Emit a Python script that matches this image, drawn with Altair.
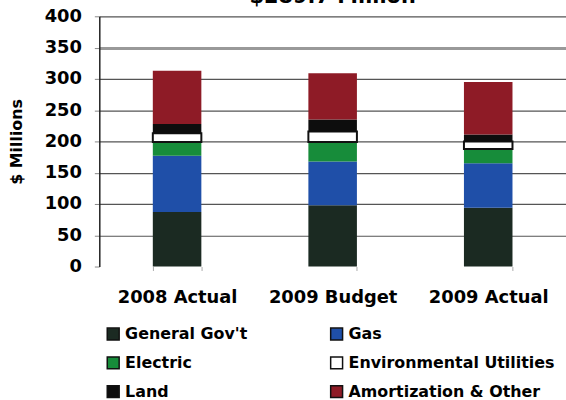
import altair as alt
import pandas as pd

categories = ["2008 Actual", "2009 Budget", "2009 Actual"]
series = ["General Gov't", "Gas", "Electric", "Environmental Utilities", "Land", "Amortization & Other"]
general_gov = [87, 98, 94]
gas = [90, 70, 71]
electric = [22, 31, 23]
env_util = [14, 17, 12]
land = [15, 19, 11]
amort = [85, 74, 84]
colors = {"General Gov't": "#1b2a22", "Gas": "#1f4fa8", "Electric": "#178c3a",
          "Environmental Utilities": "#ffffff", "Land": "#0d0d0d", "Amortization & Other": "#8e1b26"}
# legend is filled column by column: order so it reads row by row like the reference
legend_order = ["General Gov't", "Electric", "Land", "Gas", "Environmental Utilities", "Amortization & Other"]
y_ticks = [0, 50, 100, 150, 200, 250, 300, 350, 400]

vals = [general_gov, gas, electric, env_util, land, amort]
rows = []
for si, s in enumerate(series):
    for ci, c in enumerate(categories):
        rows.append({"category": c, "series": s, "idx": si, "value": vals[si][ci]})
df = pd.DataFrame(rows)

FONT = "DejaVu Sans"

chart = alt.Chart(df).mark_bar(strokeWidth=2).encode(
    x=alt.X("category:N", sort=categories,
            scale=alt.Scale(paddingInner=0.688, paddingOuter=0.344),
            axis=alt.Axis(title=None, labelAngle=0, labelFontSize=18, labelFontWeight="bold",
                          labelColor="black", labelPadding=18, domain=False, grid=False,
                          tickBand="extent", tickColor="#aaaaaa", tickSize=4, tickWidth=1)),
    y=alt.Y("value:Q", stack="zero",
            scale=alt.Scale(domain=[0, 400], nice=False),
            axis=alt.Axis(values=y_ticks, title="$ Millions", titleFontSize=16,
                          titleFontWeight="bold", titleColor="black", titlePadding=20,
                          labelFontSize=18, labelFontWeight="bold", labelColor="black",
                          labelPadding=13, tickSize=5, tickColor="#888888",
                          domainColor="#222222", domainWidth=1.5,
                          grid=True,
                          gridColor=alt.condition("datum.value == 350", alt.value("#999999"), alt.value("#555555")),
                          gridWidth=alt.condition("datum.value == 350", alt.value(3), alt.value(1.2)),
                          gridOpacity=alt.condition("datum.value == 0", alt.value(0), alt.value(1)))),
    color=alt.Color("series:N", sort=legend_order,
                    scale=alt.Scale(domain=legend_order, range=[colors[s] for s in legend_order]),
                    legend=alt.Legend(title=None, orient="none", legendX=6, legendY=312,
                                      columns=2, columnPadding=80, rowPadding=11,
                                      symbolType="square", symbolSize=144,
                                      symbolStrokeColor="#111111", symbolStrokeWidth=1.5,
                                      labelFontSize=16, labelFontWeight="bold",
                                      labelColor="black", labelOffset=4, padding=0,
                                      labelLimit=300)),
    stroke=alt.condition("datum.series === 'Environmental Utilities'", alt.value("#111111"), alt.value("transparent")),
    order=alt.Order("idx:Q", sort="ascending"),
).properties(
    width=470, height=252,
    title=alt.TitleParams("$289.7 Million", fontSize=21, fontWeight="bold", anchor="middle",
                          frame="group", baseline="alphabetic", offset=1, dy=18, color="black"),
    autosize=alt.AutoSizeParams(type="none"),
    padding={"left": 100, "top": 15, "right": 0, "bottom": 133},
).configure(font=FONT).configure_view(stroke=None)

chart.save("out.html", embed_options={"renderer": "svg", "actions": False})
